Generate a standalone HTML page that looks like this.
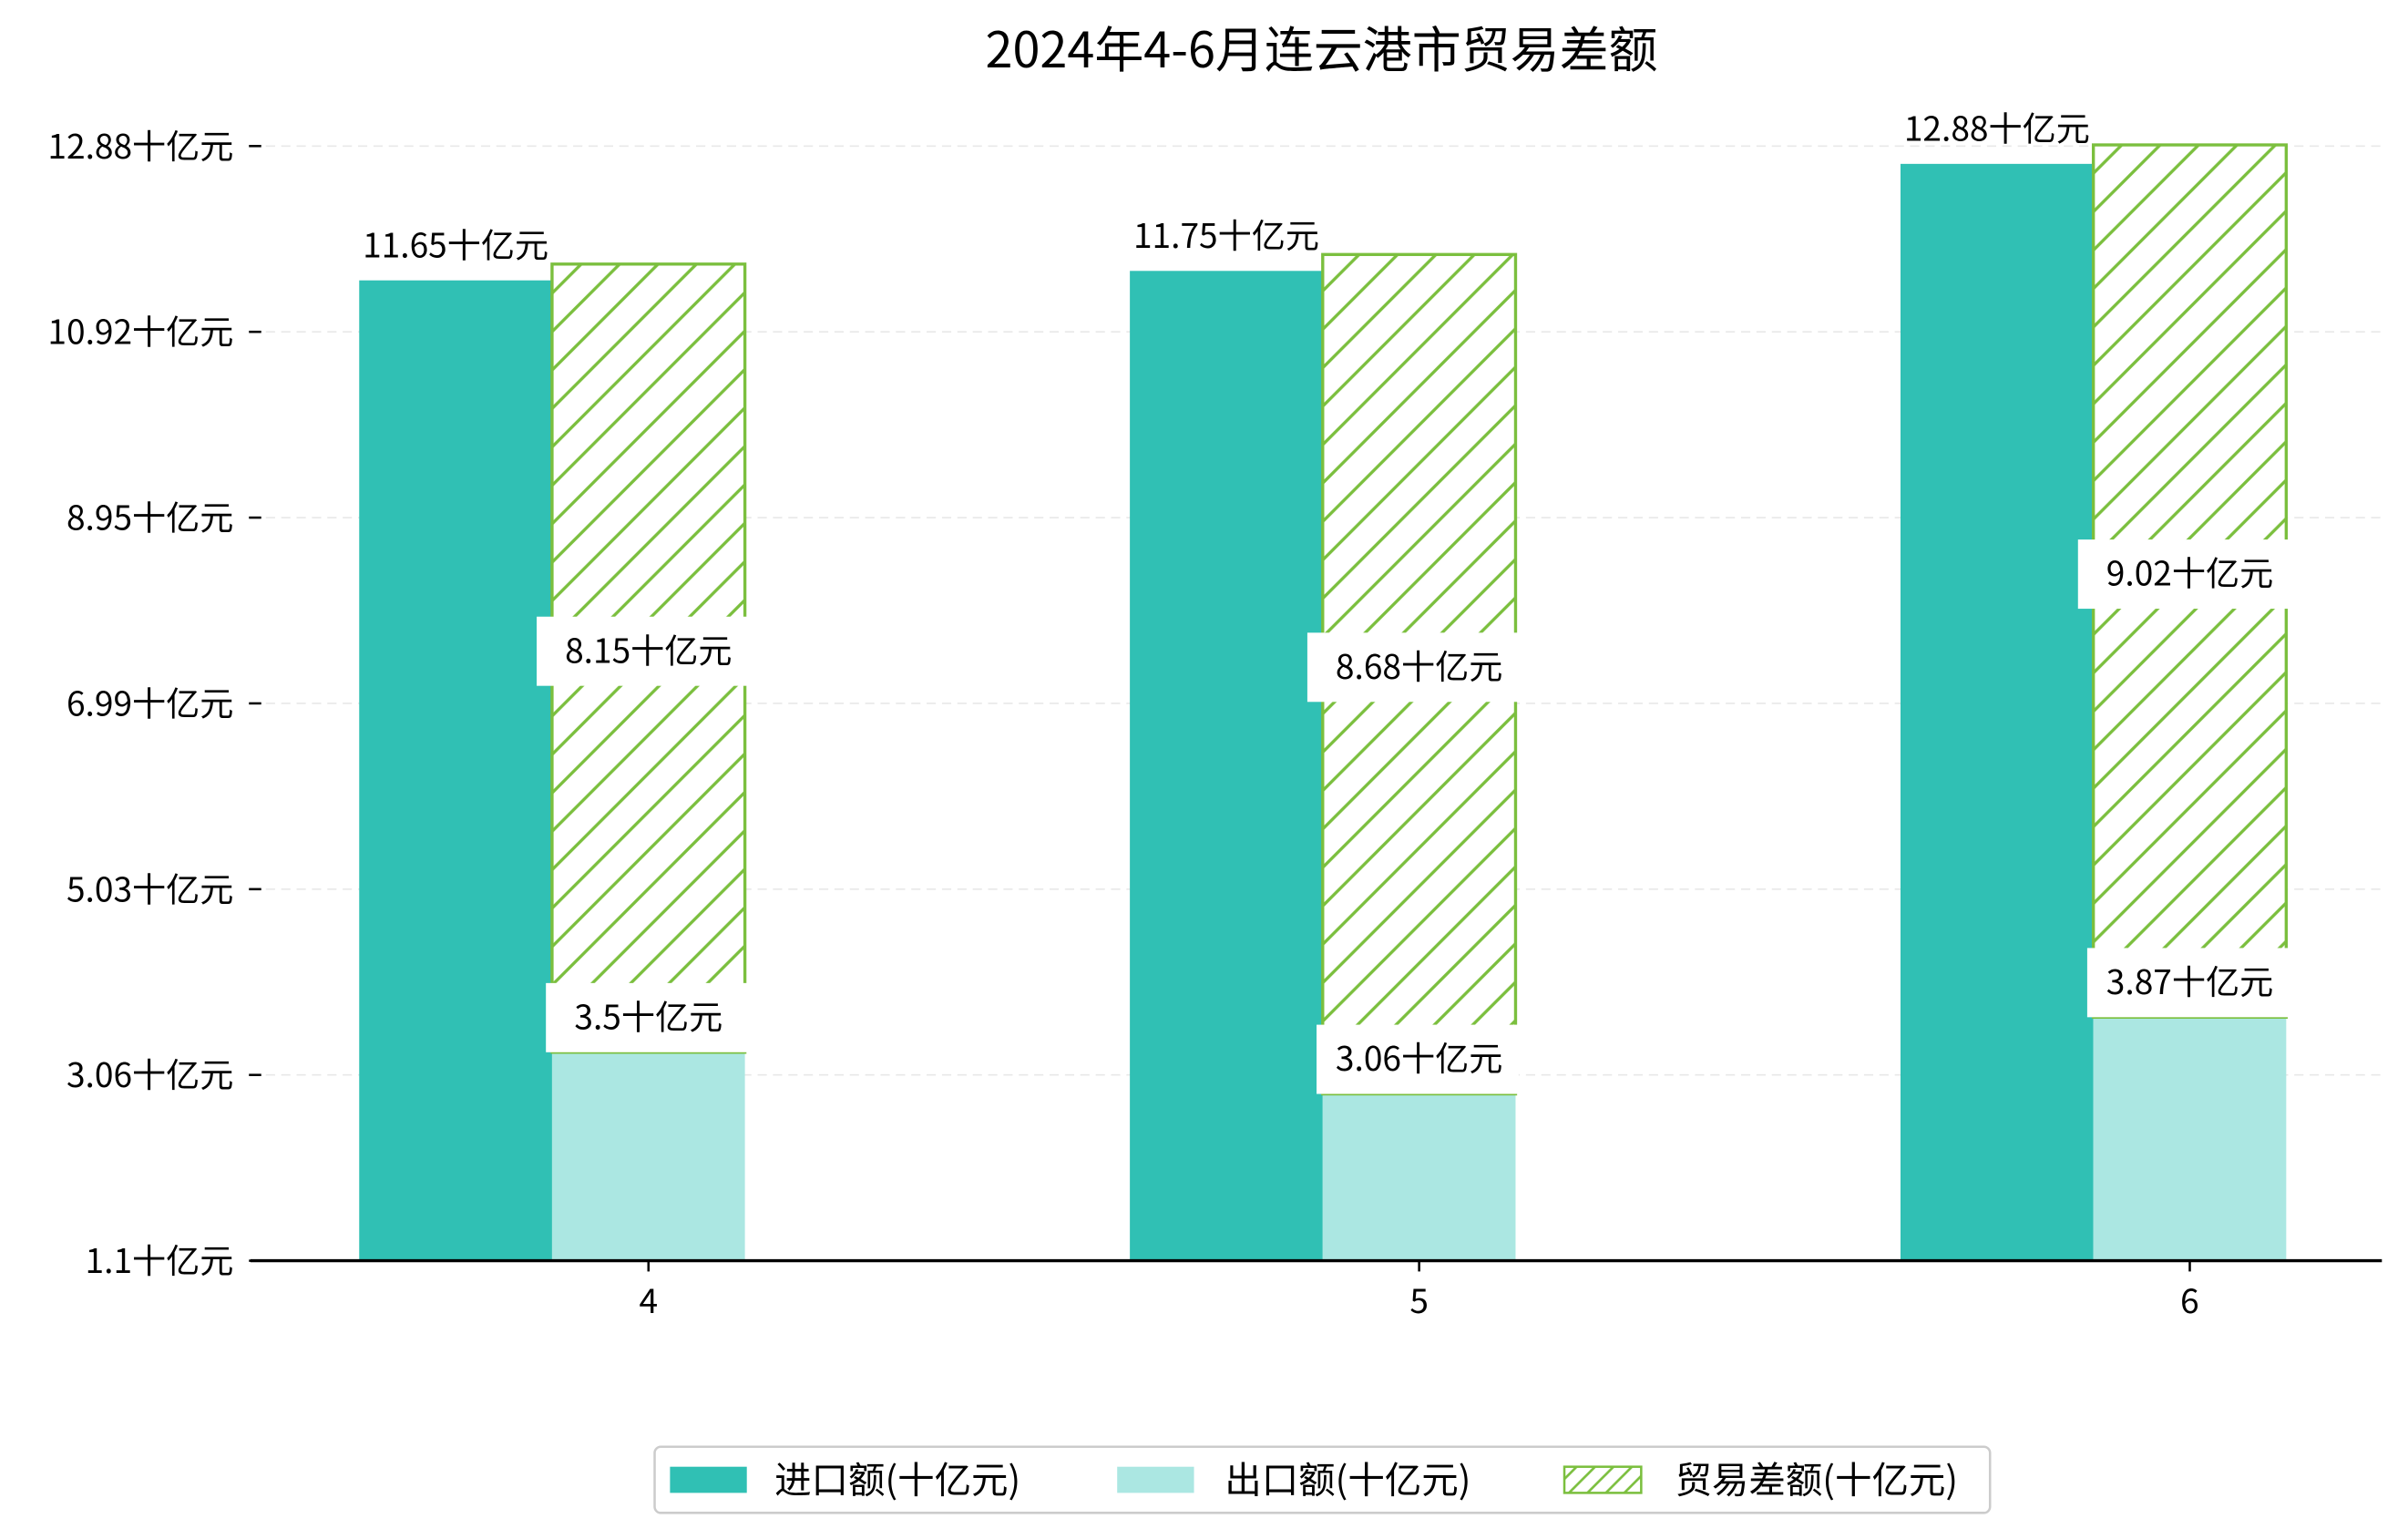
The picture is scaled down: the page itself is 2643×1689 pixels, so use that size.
<!DOCTYPE html>
<html><head><meta charset="utf-8"><style>
html,body{margin:0;padding:0;background:#fff;}
svg{display:block;font-family:"WenQuanYi Zen Hei","Noto Sans CJK SC",sans-serif;}
</style></head><body>
<svg id="chart" width="2643" height="1689" viewBox="0 0 1567 1001" preserveAspectRatio="none" xmlns="http://www.w3.org/2000/svg">
<defs>
<pattern id="hatch" patternUnits="userSpaceOnUse" width="25" height="25">
<rect width="25" height="25" fill="#fff"/>
<path d="M-5,5 L5,-5 M0,25 L25,0 M20,30 L30,20" stroke="#7bbf3e" stroke-width="2"/>
</pattern>
<pattern id="hatchL" patternUnits="userSpaceOnUse" width="12" height="12">
<rect width="12" height="12" fill="#fff"/>
<path d="M-3,3 L3,-3 M0,12 L12,0 M9,15 L15,9" stroke="#7bbf3e" stroke-width="1.6"/>
</pattern>
</defs>
<text x="860" y="44" text-anchor="middle" font-size="32" fill="#000">2024年4-6月连云港市贸易差额</text>
<g id="grid"></g>
<g id="bars"></g>
<g id="axes"></g>
<g id="labels"></g>
<g>
<rect x="426" y="941" width="869" height="43" rx="4" fill="#fff" stroke="#ccc" stroke-width="1.5"/>
<rect x="436" y="954" width="50" height="17" fill="#30c0b4"/>
<text x="504" y="971" font-size="24">进口额(十亿元)</text>
<rect x="727" y="954" width="50" height="17" fill="#abe7e2"/>
<text x="797" y="971" font-size="24">出口额(十亿元)</text>
<rect x="1018" y="954" width="50" height="17" fill="url(#hatchL)" stroke="#7bbf3e" stroke-width="1.5"/>
<text x="1090" y="971" font-size="24">贸易差额(十亿元)</text>
</g>
</svg>
<script>
const categories = ["4", "5", "6"];
const importValues = [11.65, 11.75, 12.88];
const exportValues = [3.5, 3.06, 3.87];
const balanceValues = [8.15, 8.68, 9.02];
const tickLabels = ["1.1", "3.06", "5.03", "6.99", "8.95", "10.92", "12.88"];

const NS = "http://www.w3.org/2000/svg";
const unit = "十亿元";
const axisY = 820, axisTop = 95, axisLeft = 163, axisRight = 1550;
const k = 61.6, k2 = 62.9, base = 900;
function y(v){ return base - k*v; }
function tickY(i){ return axisY - i*(axisY-axisTop)/(tickLabels.length-1); }
function xCenter(i){ return 422 + i*501.5; }
const bw = 125.5;
function mk(tag, attrs, parent){ const e=document.createElementNS(NS,tag); for(const a in attrs) e.setAttribute(a, attrs[a]); parent.appendChild(e); return e; }
const grid=document.getElementById('grid'), bars=document.getElementById('bars'), axes=document.getElementById('axes'), labels=document.getElementById('labels');

tickLabels.forEach((t,i)=>{
  const ty=tickY(i);
  if(i>0){ const g=mk('line',{x1:axisLeft,x2:axisRight,y1:ty,y2:ty,stroke:'#e8e8e8','stroke-dasharray':'6,4','stroke-width':1},grid);
    
     }
  const tm=mk('line',{x1:162,x2:170,y1:ty,y2:ty,stroke:'#000','stroke-width':1.5},axes);
  
  
  const tx=mk('text',{x:152,y:ty+8,'text-anchor':'end','font-size':22},axes);
  tx.textContent=t+unit;
  
  
});
const ax=mk('line',{x1:axisLeft,x2:axisRight,y1:axisY,y2:axisY,stroke:'#000','stroke-width':2},axes);



categories.forEach((c,i)=>{
  const cx=xCenter(i);
  const ix=cx-1.5*bw, ex=cx-0.5*bw;
  const iy=y(importValues[i]), ey=y(exportValues[i]);
  const by=ey - balanceValues[i]*k2;
  const b1=mk('rect',{x:ix,y:iy,width:bw,height:axisY-iy,fill:'#30c0b4'},bars);
  
  
  const b2=mk('rect',{x:ex,y:ey,width:bw,height:axisY-ey,fill:'#abe7e2'},bars);
  
  
  const b3=mk('rect',{x:ex,y:by,width:bw,height:ey-by,fill:'url(#hatch)',stroke:'#7bbf3e','stroke-width':2},bars);
  
  
  const xt=mk('line',{x1:cx,x2:cx,y1:axisY,y2:axisY+7,stroke:'#000','stroke-width':1.5},axes);
  
  
  const xl=mk('text',{x:cx,y:axisY+34,'text-anchor':'middle','font-size':22},axes);
  xl.textContent=c;
  
  
  const il=mk('text',{x:ix+bw/2,y:iy-15,'text-anchor':'middle','font-size':22},labels);
  il.textContent=importValues[i]+unit;
  
  
  const eb=mk('rect',{x:ex-4,y:ey-45,width:bw+6,height:45,fill:'#fff'},labels);
  
  
  const el=mk('text',{x:ex+bw/2,y:ey-15,'text-anchor':'middle','font-size':22},labels);
  el.textContent=exportValues[i]+unit;
  
  
  const my=(by+ey)/2-5;
  const bb=mk('rect',{x:ex-10,y:my-22,width:bw+22,height:45,fill:'#fff'},labels);
  
  
  const bl=mk('text',{x:ex+bw/2,y:my+8,'text-anchor':'middle','font-size':22},labels);
  bl.textContent=balanceValues[i]+unit;
  
  
});
</script>
</body></html>
